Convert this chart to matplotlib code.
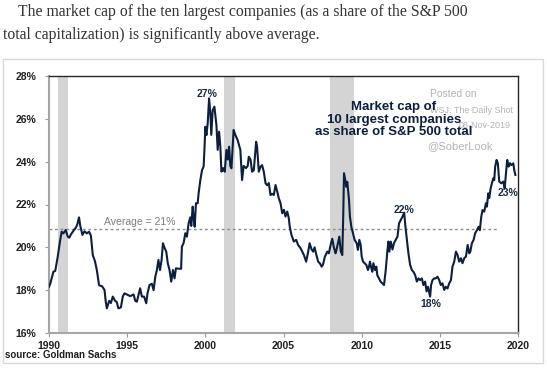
import matplotlib
matplotlib.use("Agg")
import matplotlib.pyplot as plt

years = [1990.00, 1990.08, 1990.28, 1990.40, 1990.56, 1990.70, 1990.81, 1990.92, 1991.07, 1991.20,
         1991.30, 1991.40, 1991.60, 1991.70, 1991.80, 1991.92, 1992.00, 1992.14, 1992.27, 1992.42,
         1992.56, 1992.68, 1992.80, 1992.94, 1993.06, 1993.20, 1993.30, 1993.40, 1993.55, 1993.63,
         1993.70, 1993.85, 1993.96, 1994.08, 1994.23, 1994.33, 1994.44, 1994.60, 1994.72, 1994.83,
         1994.98, 1995.20, 1995.41, 1995.52, 1995.62, 1995.72, 1995.83, 1995.94, 1996.08, 1996.22,
         1996.30, 1996.43, 1996.58, 1996.69, 1996.80, 1996.90, 1997.00, 1997.10, 1997.20, 1997.29,
         1997.38, 1997.50, 1997.60, 1997.71, 1997.82, 1997.93, 1998.03, 1998.12, 1998.30, 1998.45,
         1998.50, 1998.61, 1998.72, 1998.82, 1998.93, 1999.04, 1999.10, 1999.19, 1999.26, 1999.32,
         1999.40, 1999.51, 1999.57, 1999.68, 1999.79, 1999.89, 1999.95, 2000.00, 2000.07, 2000.15,
         2000.24, 2000.32, 2000.38, 2000.47, 2000.58, 2000.71, 2000.79, 2000.88, 2000.96, 2001.03,
         2001.14, 2001.24, 2001.35, 2001.44, 2001.52, 2001.60, 2001.67, 2001.76, 2001.81, 2001.92,
         2002.07, 2002.24, 2002.35, 2002.45, 2002.60, 2002.71, 2002.78, 2002.89, 2002.99, 2003.10,
         2003.17, 2003.25, 2003.31, 2003.42, 2003.53, 2003.63, 2003.74, 2003.85, 2003.95, 2004.06,
         2004.17, 2004.27, 2004.38, 2004.49, 2004.60, 2004.70, 2004.81, 2004.92, 2005.03, 2005.13,
         2005.24, 2005.34, 2005.40, 2005.51, 2005.66, 2005.81, 2005.94, 2006.09, 2006.20, 2006.30,
         2006.45, 2006.58, 2006.67, 2006.80, 2006.90, 2006.99, 2007.10, 2007.22, 2007.33, 2007.44,
         2007.52, 2007.65, 2007.80, 2007.90, 2008.01, 2008.12, 2008.22, 2008.33, 2008.39, 2008.48,
         2008.57, 2008.66, 2008.76, 2008.82, 2008.87, 2008.95, 2009.02, 2009.08, 2009.19, 2009.25,
         2009.34, 2009.45, 2009.55, 2009.68, 2009.76, 2009.85, 2009.94, 2010.00, 2010.09, 2010.19,
         2010.30, 2010.40, 2010.47, 2010.53, 2010.62, 2010.68, 2010.75, 2010.85, 2010.94, 2011.00,
         2011.11, 2011.21, 2011.32, 2011.43, 2011.54, 2011.64, 2011.71, 2011.77, 2011.86, 2011.97,
         2012.07, 2012.18, 2012.29, 2012.39, 2012.50, 2012.61, 2012.72, 2012.80, 2012.89, 2012.99,
         2013.10, 2013.21, 2013.31, 2013.42, 2013.53, 2013.63, 2013.74, 2013.85, 2013.95, 2014.06,
         2014.15, 2014.24, 2014.38, 2014.44, 2014.53, 2014.64, 2014.74, 2014.85, 2014.96, 2015.06,
         2015.17, 2015.28, 2015.38, 2015.49, 2015.60, 2015.71, 2015.81, 2015.92, 2016.03, 2016.13,
         2016.24, 2016.35, 2016.45, 2016.56, 2016.67, 2016.78, 2016.88, 2016.95, 2017.05, 2017.16,
         2017.26, 2017.37, 2017.48, 2017.56, 2017.65, 2017.73, 2017.84, 2017.95, 2018.01, 2018.10,
         2018.16, 2018.25, 2018.33, 2018.42, 2018.48, 2018.54, 2018.63, 2018.71, 2018.80, 2018.93,
         2019.06, 2019.15, 2019.23, 2019.31, 2019.40, 2019.48, 2019.57, 2019.70, 2019.76, 2019.83]

share = [18.16, 18.30, 18.86, 18.90, 19.57, 20.27, 20.73, 20.65, 20.81, 20.50,
         20.45, 20.60, 20.81, 20.90, 21.04, 21.40, 21.00, 20.58, 20.75, 20.65,
         20.73, 20.55, 19.64, 19.35, 18.94, 18.24, 18.20, 18.18, 18.01, 17.46,
         17.15, 17.50, 17.40, 17.70, 17.50, 17.45, 17.15, 17.20, 17.70, 17.85,
         17.80, 17.72, 17.80, 17.50, 17.46, 17.75, 18.09, 17.70, 17.70, 17.39,
         17.85, 18.24, 18.30, 18.00, 18.63, 18.94, 19.41, 18.94, 19.40, 20.19,
         20.00, 19.80, 19.25, 18.94, 18.40, 18.94, 18.55, 19.02, 19.00, 19.00,
         20.03, 20.20, 20.66, 20.50, 21.12, 21.40, 21.00, 21.90, 21.30, 20.96,
         22.06, 22.06, 22.52, 23.14, 23.61, 23.77, 24.70, 25.63, 25.24, 25.78,
         26.96, 26.26, 25.25, 26.40, 26.57, 25.70, 24.55, 25.40, 24.70, 23.53,
         23.70, 23.53, 24.55, 24.10, 24.70, 23.80, 23.69, 24.80, 25.48, 25.25,
         25.00, 24.55, 23.14, 23.80, 23.70, 23.80, 24.23, 24.10, 23.53, 23.60,
         24.20, 24.93, 24.70, 23.53, 23.76, 23.84, 23.53, 22.99, 22.90, 23.00,
         22.44, 22.50, 22.44, 22.91, 22.60, 22.29, 22.06, 21.59, 21.75, 21.44,
         21.67, 21.36, 20.96, 20.58, 20.27, 20.35, 20.10, 19.96, 19.80, 19.65,
         19.33, 19.80, 20.19, 19.90, 19.80, 20.00, 19.65, 19.33, 19.25, 19.10,
         19.18, 19.57, 19.80, 19.72, 20.10, 20.40, 20.00, 19.72, 19.88, 20.20,
         20.50, 19.82, 19.64, 21.43, 23.46, 23.15, 22.83, 23.06, 22.21, 21.43,
         20.96, 20.65, 20.35, 20.19, 19.88, 20.35, 20.10, 19.57, 19.33, 19.26,
         19.18, 18.94, 19.10, 19.33, 19.02, 18.86, 19.26, 18.94, 19.10, 18.70,
         18.55, 18.40, 18.32, 18.24, 18.94, 19.80, 20.27, 19.80, 20.27, 19.90,
         20.20, 20.35, 20.50, 21.12, 21.28, 21.43, 21.62, 20.96, 20.35, 19.72,
         19.18, 18.94, 18.86, 18.71, 18.40, 18.55, 18.47, 18.55, 18.24, 18.40,
         17.94, 18.16, 17.70, 18.24, 18.47, 18.55, 18.55, 18.63, 18.47, 18.24,
         18.32, 18.01, 18.16, 18.08, 18.32, 18.47, 19.10, 19.33, 19.80, 19.65,
         19.33, 19.49, 19.26, 19.49, 19.57, 20.11, 19.72, 19.80, 20.19, 20.35,
         20.66, 20.80, 20.96, 20.80, 21.43, 21.74, 21.67, 22.06, 21.90, 22.52,
         22.30, 22.75, 22.99, 23.22, 23.14, 23.77, 24.08, 23.93, 23.07, 22.99,
         23.07, 22.75, 23.45, 24.08, 23.77, 23.93, 23.84, 23.92, 23.61, 23.38]

recession_start = [1990.58, 2001.20, 2007.97]
recession_end = [1991.22, 2001.90, 2009.50]

average_value = 20.84
average_end = 2018.7

x_ticks = [1990, 1995, 2000, 2005, 2010, 2015, 2020]
y_ticks = [16, 18, 20, 22, 24, 26, 28]

annotations = [("27%", 2000.1, 27.15), ("22%", 2012.72, 21.72),
               ("18%", 2014.45, 17.35), ("23%", 2019.35, 22.55)]

fig = plt.figure(figsize=(5.47, 3.68), dpi=100)
fig.patch.set_facecolor("white")

# outer frame of the chart image
frame = plt.Rectangle((3 / 547, 1 - 363 / 368), 540 / 547, 304 / 368,
                      transform=fig.transFigure, fill=False,
                      edgecolor="#d9d9d9", linewidth=1.0)
fig.patches.append(frame)

fig.text(18 / 547, 1 - 12 / 368,
         "The market cap of the ten largest companies (as a share of the S&P 500",
         family="Liberation Serif", fontsize=11.3, color="#333333", va="center", ha="left")
fig.text(3 / 547, 1 - 35 / 368,
         "total capitalization) is significantly above average.",
         family="Liberation Serif", fontsize=11.3, color="#333333", va="center", ha="left")

ax = fig.add_axes([49 / 547, 1 - 333 / 368, 469 / 547, 257 / 368])

for s, e in zip(recession_start, recession_end):
    ax.axvspan(s, e, color="#d4d4d4", linewidth=0, zorder=0)

ax.plot([1990, average_end], [average_value, average_value], linestyle=(0, (2, 2)),
        color="#8c8c8c", linewidth=1.0, zorder=1)
ax.text(1993.5, average_value + 0.12, "Average = 21%", color="#7f7f7f",
        fontsize=7.5, family="Liberation Sans", ha="left", va="bottom")

ax.plot(years, share, color="#0c1f3f", linewidth=1.5, zorder=3)

for txt, xv, yv in annotations:
    ax.text(xv, yv, txt, fontsize=7.5, fontweight="bold", family="Liberation Sans",
            color="#1a2a40", ha="center", va="center", zorder=4)

# watermark
wm = "#b3b3b3"
ax.text(2014.4, 27.16, "Posted on", color=wm, fontsize=7.5, family="Liberation Sans",
        ha="left", va="center", zorder=2)
ax.text(2014.4, 26.41, "WSJ: The Daily Shot", color=wm, fontsize=6.5,
        family="Liberation Sans", ha="left", va="center", zorder=2)
ax.text(2019.55, 25.67, "08-Nov-2019", color=wm, fontsize=6.5, family="Liberation Sans",
        ha="right", va="center", zorder=2)
ax.text(2014.2, 24.73, "@SoberLook", color=wm, fontsize=8, family="Liberation Sans",
        ha="left", va="center", zorder=2)

ax.text(2012.05, 25.95, "Market cap of\n10 largest companies\nas share of S&P 500 total",
        fontsize=9.5, fontweight="bold", family="Liberation Sans", color="#0c1f3f",
        ha="center", va="center", linespacing=1.05, zorder=5)

ax.set_xlim(1990, 2020)
ax.set_ylim(16, 28)
ax.set_xticks(x_ticks)
ax.set_xticklabels([str(t) for t in x_ticks])
ax.set_yticks(y_ticks)
ax.set_yticklabels([f"{t}%" for t in y_ticks])

for lab in ax.get_xticklabels() + ax.get_yticklabels():
    lab.set_fontweight("bold")
    lab.set_fontsize(7.5)
    lab.set_family("Liberation Sans")
    lab.set_color("#1f1f1f")

ax.tick_params(axis="both", direction="out", length=3, width=0.8, color="#9a9a9a")
ax.tick_params(axis="y", pad=6)
ax.tick_params(axis="x", pad=3)

ax.spines["left"].set_color("#a6a6a6")
ax.spines["bottom"].set_color("#a6a6a6")
ax.spines["top"].set_color("#262626")
ax.spines["right"].set_color("#262626")
for sp in ax.spines.values():
    sp.set_linewidth(1.0)
ax.spines["left"].set_linewidth(1.5)
ax.spines["bottom"].set_linewidth(1.5)

fig.text(5 / 547, 1 - 355 / 368, "source: Goldman Sachs", fontsize=7, fontweight="bold",
         family="Liberation Sans", color="#1f1f1f", ha="left", va="center")

fig.savefig("out.png", dpi=100, facecolor="white")
